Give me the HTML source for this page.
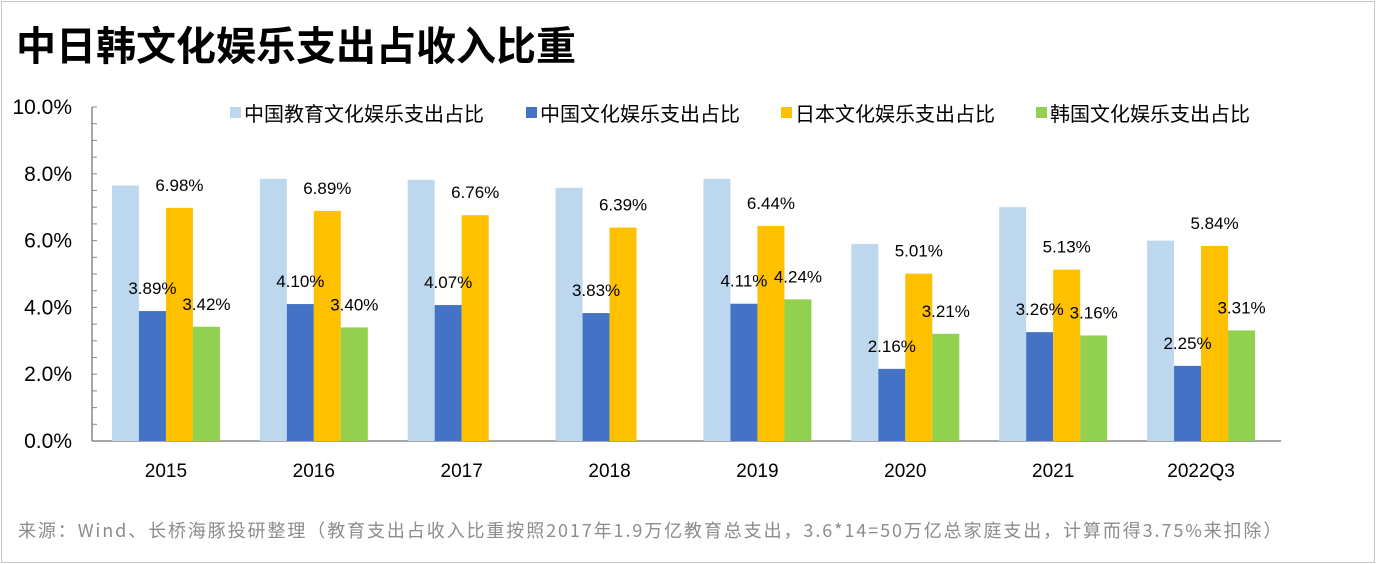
<!DOCTYPE html>
<html><head><meta charset="utf-8"><style>
html,body{margin:0;padding:0;background:#fff;}
body{width:1376px;height:564px;overflow:hidden;position:relative;font-family:"Liberation Sans","Noto Sans CJK SC",sans-serif;}
#frame{position:absolute;left:1px;top:1px;width:1372px;height:560px;border:1px solid #c8c8c8;}
#title{position:absolute;left:16px;top:18px;font-size:40px;line-height:50px;font-weight:bold;color:#000;font-family:"Noto Sans CJK SC",sans-serif;}
#foot{position:absolute;left:18px;top:517px;font-size:18px;line-height:26px;letter-spacing:1.9px;color:#8c8c8c;font-family:"Noto Sans CJK SC",sans-serif;white-space:nowrap;}
svg{position:absolute;left:0;top:0;}
</style></head><body>
<div id="frame"></div>
<div id="title">中日韩文化娱乐支出占收入比重</div>
<div id="foot">来源：Wind、长桥海豚投研整理（教育支出占收入比重按照2017年1.9万亿教育总支出，3.6*14=50万亿总家庭支出，计算而得3.75%来扣除）</div>
<svg id="chart" width="1376" height="564"></svg>
<script>
const categories=["2015","2016","2017","2018","2019","2020","2021","2022Q3"];
const eduCulture=[7.65,7.85,7.82,7.58,7.85,5.9,7.0,6.0];
const chinaCulture=[3.89,4.10,4.07,3.83,4.11,2.16,3.26,2.25];
const japanCulture=[6.98,6.89,6.76,6.39,6.44,5.01,5.13,5.84];
const koreaCulture=[3.42,3.40,null,null,4.24,3.21,3.16,3.31];
const yTicks=[0,2,4,6,8,10];
const seriesNames=["中国教育文化娱乐支出占比","中国文化娱乐支出占比","日本文化娱乐支出占比","韩国文化娱乐支出占比"];
const NS="http://www.w3.org/2000/svg";
const svg=document.getElementById('chart');
const x0=92,x1=1275,y0=441,y1=107;
const y=v=>y0-(v/10)*(y0-y1);
const cw=(x1-x0)/categories.length;
const xc=i=>x0+cw*(i+0.5);
const bw=27;
function mk(t,a){const e=document.createElementNS(NS,t);for(const k in a)e.setAttribute(k,a[k]);svg.appendChild(e);return e;}
let ax=mk('line',{x1:x0,y1:y1,x2:x0,y2:y0,stroke:'#888','stroke-width':1.5});


let bx=mk('line',{x1:x0,y1:y0,x2:1281,y2:y0,stroke:'#888','stroke-width':1.5});


for(let v=0;v<=10;v+=0.5){mk('line',{x1:x0,y1:y(v),x2:x0+5,y2:y(v),stroke:'#888','stroke-width':1});}
yTicks.forEach(v=>{const t=mk('text',{x:72,y:y(v)+7,'text-anchor':'end','font-size':21,fill:'#000'});t.textContent=v.toFixed(1)+'%';

});
categories.forEach((c,i)=>{const t=mk('text',{x:xc(i),y:477,'text-anchor':'middle','font-size':19,fill:'#000'});t.textContent=c;

});
const colors=["#bdd7ee","#4472c4","#ffc000","#92d050"];
const data=[eduCulture,chinaCulture,japanCulture,koreaCulture];
const names=["bar-edu-culture","bar-china-culture","bar-japan-culture","bar-korea-culture"];
data.forEach((arr,s)=>{arr.forEach((v,i)=>{if(v==null)return;
const bxl=xc(i)-2*bw+s*bw;
const r=mk('rect',{x:bxl,y:y(v),width:bw,height:y0-y(v),fill:colors[s]});


});});
data.forEach((arr,s)=>{if(s===0)return;arr.forEach((v,i)=>{if(v==null)return;
const bxl=xc(i)-2*bw+s*bw;
const t=mk('text',{x:bxl+bw/2,y:y(v)-17,'text-anchor':'middle','font-size':17,fill:'#000'});t.textContent=v.toFixed(2)+'%';


});});
const lx=[230,526,781,1036];
seriesNames.forEach((n,s)=>{mk('rect',{x:lx[s],y:107,width:11,height:11,fill:colors[s]});
const t=mk('text',{x:lx[s]+14,y:121,'font-size':20,fill:'#000','font-family':'Noto Sans CJK SC, sans-serif'});t.textContent=n;

});
</script>
</body></html>
